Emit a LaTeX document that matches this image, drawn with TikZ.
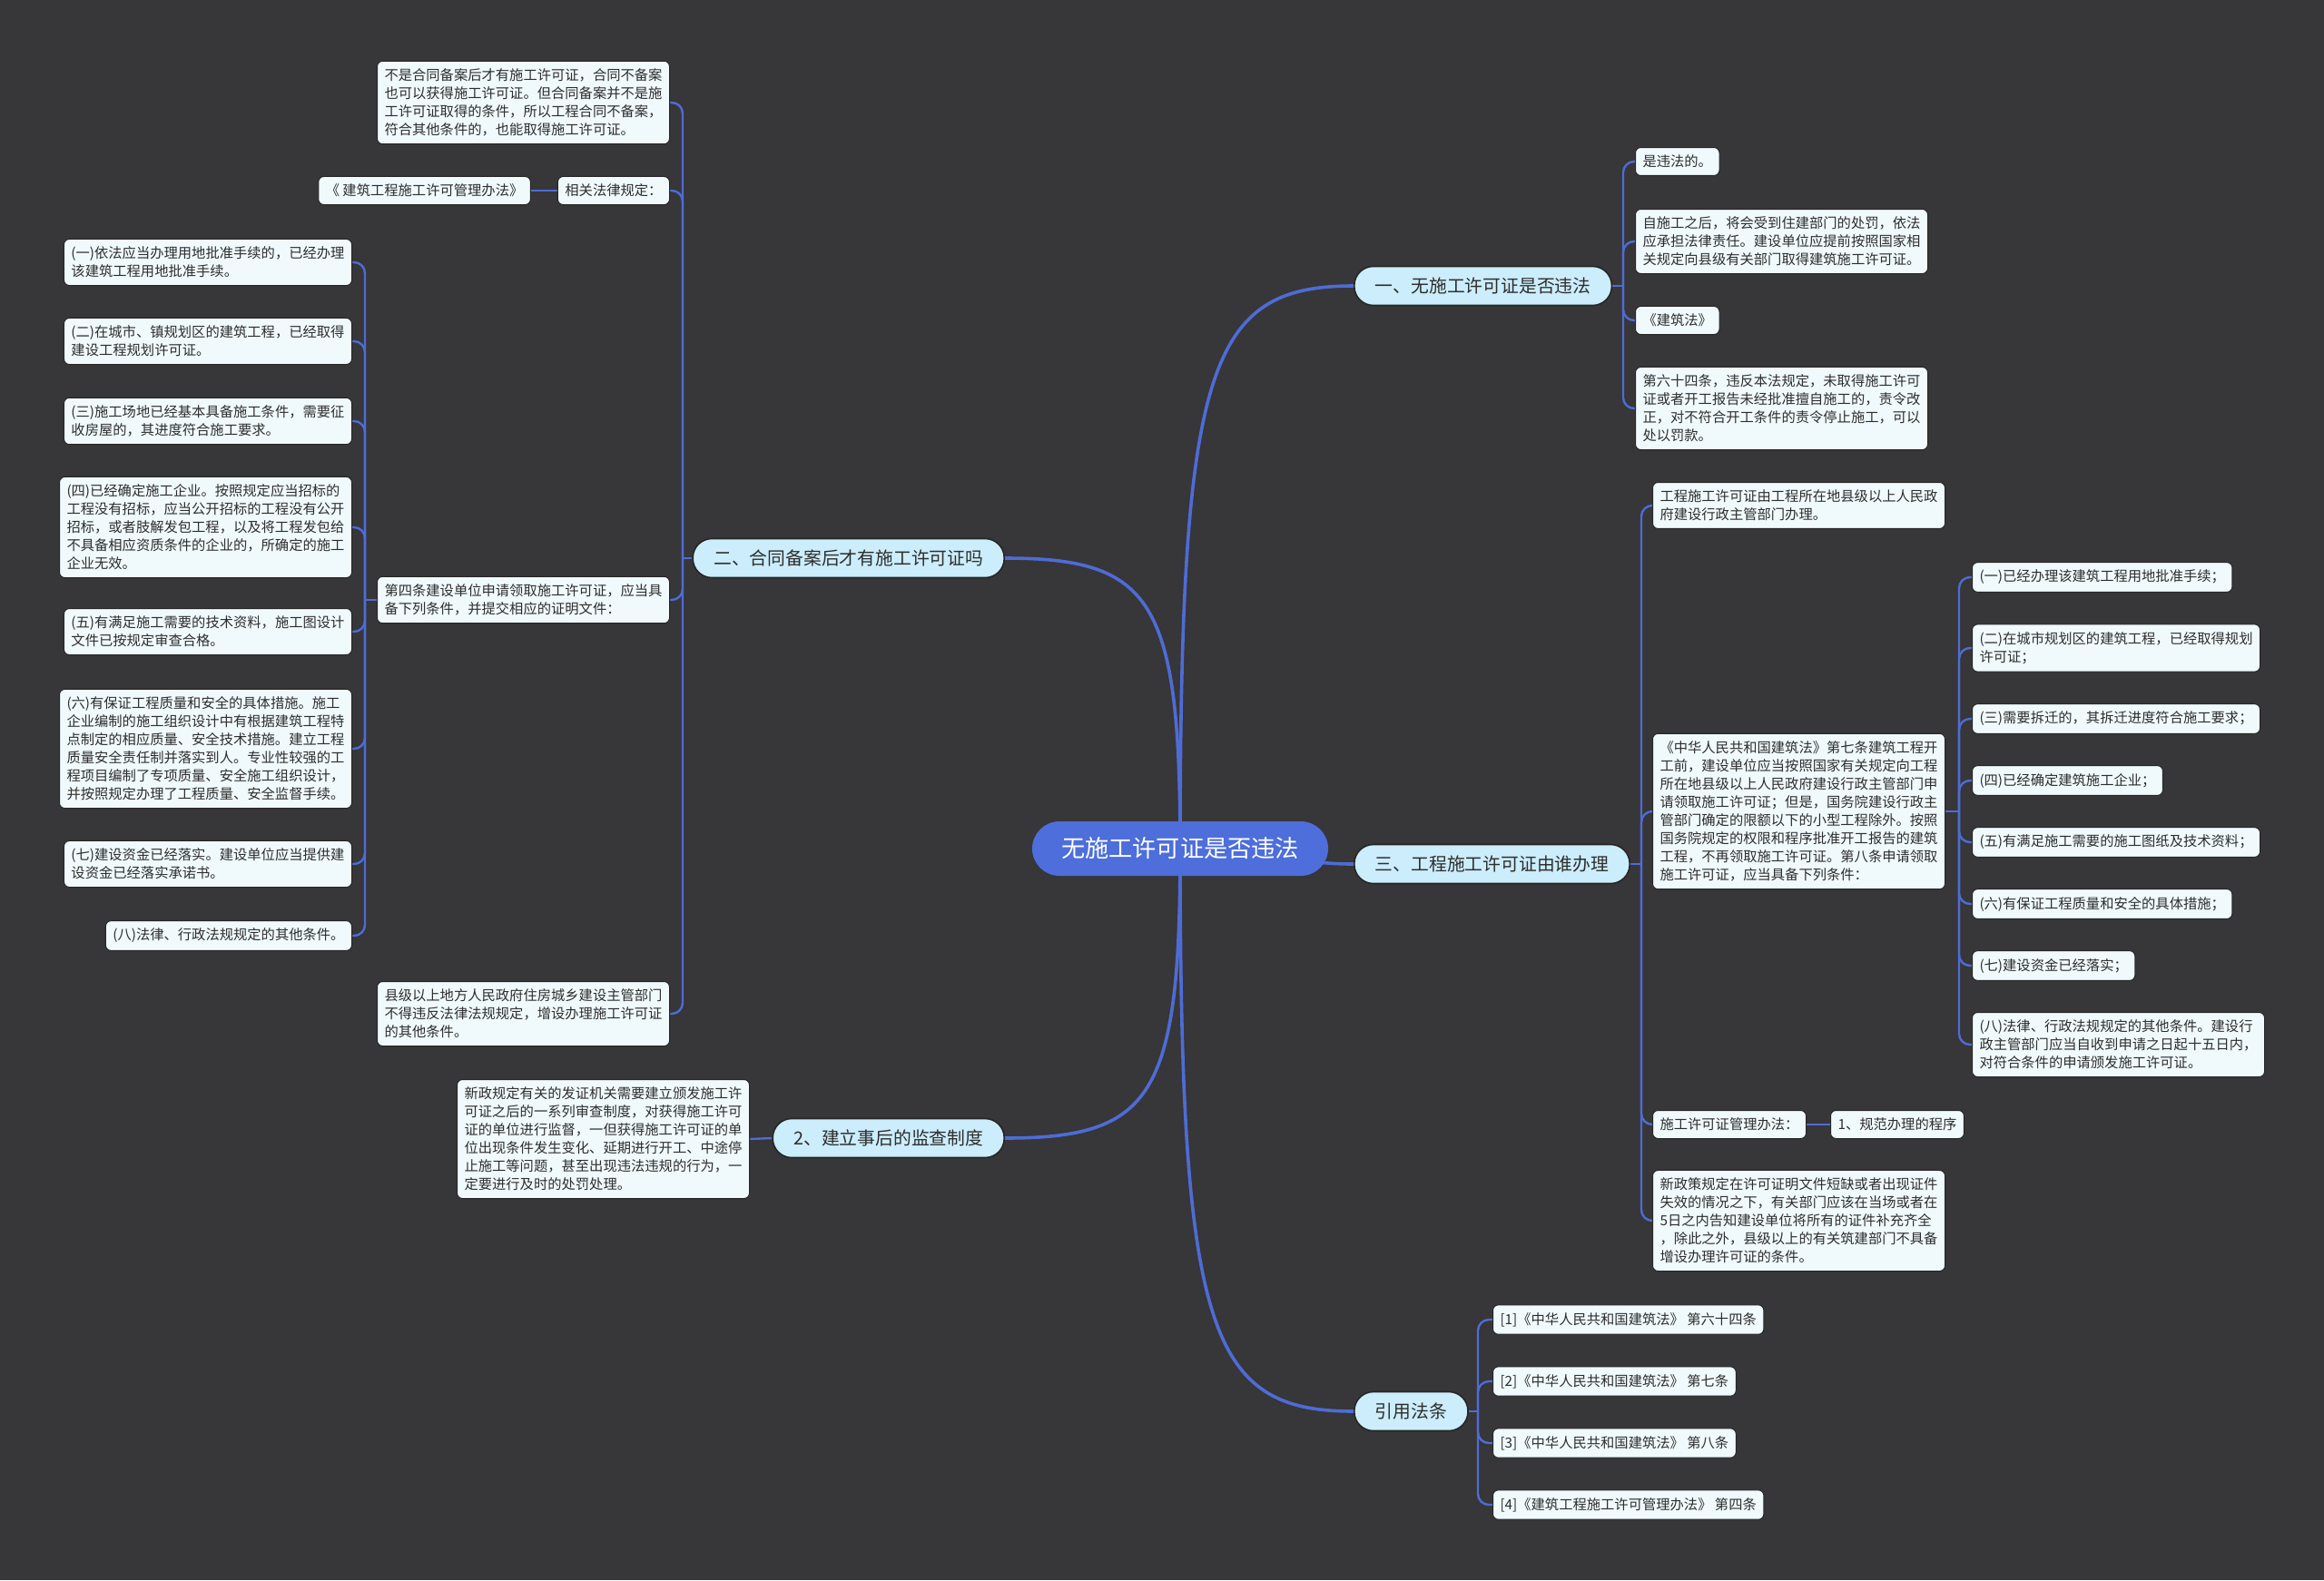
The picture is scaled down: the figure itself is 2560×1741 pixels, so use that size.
\documentclass[tikz,border=0pt]{standalone}
\usepackage{fontspec}
\setmainfont{Noto Sans CJK SC}
\usepackage{tikz}
\usetikzlibrary{positioning}

\definecolor{bgc}{RGB}{55,54,56}
\definecolor{linkc}{RGB}{78,108,214}
\definecolor{leaffill}{RGB}{240,250,253}
\definecolor{branchfill}{RGB}{204,237,251}
\definecolor{rootfill}{RGB}{77,110,219}
\definecolor{edgec}{RGB}{38,38,38}
\definecolor{txt}{RGB}{45,45,45}

\pgfdeclarelayer{back}
\pgfsetlayers{back,main}

\begin{document}
\begin{tikzpicture}
	[   x=0.5pt,y=-0.5pt,
	leaf/.style={draw=edgec,fill=leaffill,text=txt,rounded corners=3pt,align=left,inner xsep=4pt,inner ysep=4.2pt,line width=0.5pt,font=\fontsize{7.65}{10}\selectfont},
	branch/.style={draw=edgec,fill=branchfill,text=txt,rounded corners=10.5pt,minimum height=21.5pt,inner xsep=11.5pt,line width=0.8pt,font=\fontsize{9.9}{12}\selectfont},
	root/.style={fill=rootfill,text=white,rounded corners=15pt,minimum height=30pt,inner xsep=16pt,font=\fontsize{13.1}{15}\selectfont},
	]
	\tikzset{link/.style={draw=linkc,line width=1.2pt,rounded corners=6pt},main link/.style={draw=linkc,line width=1.8pt}}
	\begin{pgfonlayer}{back}
		\fill[bgc] (0,0) rectangle (2560,1741);
	\end{pgfonlayer}
	
	\node[root] (c) at (1300,935) {无施工许可证是否违法};
	\node[branch,anchor=west] (b1) at (1491,315) {一、无施工许可证是否违法};
	\node[branch,anchor=east] (b2) at (1107,615) {二、合同备案后才有施工许可证吗};
	\node[branch,anchor=west] (b3) at (1491,952) {三、工程施工许可证由谁办理};
	\node[branch,anchor=east] (b4) at (1107,1254) {2、建立事后的监查制度};
	\node[branch,anchor=west] (b5) at (1491,1555) {引用法条};
	
	% branch one
	\node[leaf,anchor=west] (a1) at (1801,178) {是违法的。};
	\node[leaf,anchor=west] (a2) at (1801,266) {自施工之后，将会受到住建部门的处罚，依法\\应承担法律责任。建设单位应提前按照国家相\\关规定向县级有关部门取得建筑施工许可证。};
	\node[leaf,anchor=west] (a3) at (1801,353) {《建筑法》};
	\node[leaf,anchor=west] (a4) at (1801,450) {第六十四条，违反本法规定，未取得施工许可\\证或者开工报告未经批准擅自施工的，责令改\\正，对不符合开工条件的责令停止施工，可以\\处以罚款。};
	
	% branch two
	\node[leaf,anchor=east] (f1) at (738,113) {不是合同备案后才有施工许可证，合同不备案\\也可以获得施工许可证。但合同备案并不是施\\工许可证取得的条件，所以工程合同不备案，\\符合其他条件的，也能取得施工许可证。};
	\node[leaf,anchor=east] (f2) at (738,210) {相关法律规定：};
	\node[leaf,left=14.5pt of f2] (f2a) {《 建筑工程施工许可管理办法》};
	\node[leaf,anchor=east] (f3) at (738,661) {第四条建设单位申请领取施工许可证，应当具\\备下列条件，并提交相应的证明文件：};
	\node[leaf,anchor=east] (f4) at (738,1117) {县级以上地方人民政府住房城乡建设主管部门\\不得违反法律法规规定，增设办理施工许可证\\的其他条件。};
	
	\node[leaf,anchor=east] (g1) at (388,289) {(一)依法应当办理用地批准手续的，已经办理\\该建筑工程用地批准手续。};
	\node[leaf,anchor=east] (g2) at (388,376) {(二)在城市、镇规划区的建筑工程，已经取得\\建设工程规划许可证。};
	\node[leaf,anchor=east] (g3) at (388,464) {(三)施工场地已经基本具备施工条件，需要征\\收房屋的，其进度符合施工要求。};
	\node[leaf,anchor=east] (g4) at (388,581) {(四)已经确定施工企业。按照规定应当招标的\\工程没有招标，应当公开招标的工程没有公开\\招标，或者肢解发包工程，以及将工程发包给\\不具备相应资质条件的企业的，所确定的施工\\企业无效。};
	\node[leaf,anchor=east] (g5) at (388,696) {(五)有满足施工需要的技术资料，施工图设计\\文件已按规定审查合格。};
	\node[leaf,anchor=east] (g6) at (388,825) {(六)有保证工程质量和安全的具体措施。施工\\企业编制的施工组织设计中有根据建筑工程特\\点制定的相应质量、安全技术措施。建立工程\\质量安全责任制并落实到人。专业性较强的工\\程项目编制了专项质量、安全施工组织设计，\\并按照规定办理了工程质量、安全监督手续。};
	\node[leaf,anchor=east] (g7) at (388,952) {(七)建设资金已经落实。建设单位应当提供建\\设资金已经落实承诺书。};
	\node[leaf,anchor=east] (g8) at (388,1031) {(八)法律、行政法规规定的其他条件。};
	
	% branch 2
	\node[leaf,anchor=east] (h1) at (826,1255) {新政规定有关的发证机关需要建立颁发施工许\\可证之后的一系列审查制度，对获得施工许可\\证的单位进行监督，一但获得施工许可证的单\\位出现条件发生变化、延期进行开工、中途停\\止施工等问题，甚至出现违法违规的行为，一\\定要进行及时的处罚处理。};
	
	% branch three
	\node[leaf,anchor=west] (c1) at (1820,557) {工程施工许可证由工程所在地县级以上人民政\\府建设行政主管部门办理。};
	\node[leaf,anchor=west] (c2) at (1820,894) {《中华人民共和国建筑法》第七条建筑工程开\\工前，建设单位应当按照国家有关规定向工程\\所在地县级以上人民政府建设行政主管部门申\\请领取施工许可证；但是，国务院建设行政主\\管部门确定的限额以下的小型工程除外。按照\\国务院规定的权限和程序批准开工报告的建筑\\工程，不再领取施工许可证。第八条申请领取\\施工许可证，应当具备下列条件：};
	\node[leaf,anchor=west] (c3) at (1820,1239) {施工许可证管理办法：};
	\node[leaf,right=13pt of c3] (c3a) {1、规范办理的程序};
	\node[leaf,anchor=west] (c4) at (1820,1345) {新政策规定在许可证明文件短缺或者出现证件\\失效的情况之下，有关部门应该在当场或者在\\5日之内告知建设单位将所有的证件补充齐全\\，除此之外，县级以上的有关筑建部门不具备\\增设办理许可证的条件。};
	
	\node[leaf,anchor=west] (d1) at (2172,636) {(一)已经办理该建筑工程用地批准手续；};
	\node[leaf,anchor=west] (d2) at (2172,714) {(二)在城市规划区的建筑工程，已经取得规划\\许可证；};
	\node[leaf,anchor=west] (d3) at (2172,792) {(三)需要拆迁的，其拆迁进度符合施工要求；};
	\node[leaf,anchor=west] (d4) at (2172,860) {(四)已经确定建筑施工企业；};
	\node[leaf,anchor=west] (d5) at (2172,928) {(五)有满足施工需要的施工图纸及技术资料；};
	\node[leaf,anchor=west] (d6) at (2172,996) {(六)有保证工程质量和安全的具体措施；};
	\node[leaf,anchor=west] (d7) at (2172,1064) {(七)建设资金已经落实；};
	\node[leaf,anchor=west] (d8) at (2172,1151) {(八)法律、行政法规规定的其他条件。建设行\\政主管部门应当自收到申请之日起十五日内，\\对符合条件的申请颁发施工许可证。};
	
	% references
	\node[leaf,anchor=west] (e1) at (1644,1454) {[1]《中华人民共和国建筑法》 第六十四条};
	\node[leaf,anchor=west] (e2) at (1644,1522) {[2]《中华人民共和国建筑法》 第七条};
	\node[leaf,anchor=west] (e3) at (1644,1590) {[3]《中华人民共和国建筑法》 第八条};
	\node[leaf,anchor=west] (e4) at (1644,1658) {[4]《建筑工程施工许可管理办法》 第四条};
	
	\coordinate (t1) at (1788,315);
	\coordinate (t2) at (752,615);
	\coordinate (t3) at (1808,952);
	\coordinate (t4) at (402,661);
	\coordinate (t5) at (1628,1555);
	\coordinate (t7) at (2158,894);
	
	\begin{pgfonlayer}{back}
		\path[main link] (c.center) .. controls (1300,402) and (1331,315) .. (b1.west);
		\path[main link] (c.center) .. controls (1300,660) and (1269,615) .. (b2.east);
		\path[main link] (c.center) .. controls (1400,935) and (1420,952) .. (b3.west);
		\path[main link] (c.center) .. controls (1300,1209) and (1269,1254) .. (b4.east);
		\path[main link] (c.center) .. controls (1300,1468) and (1331,1555) .. (b5.west);
		
		\path[link] (b1.east) -- (t1);
		\foreach \k in {a1,a2,a3,a4}
		\path[link] (t1) |- (\k.west);
		
		\path[link] (b2.west) -- (t2);
		\foreach \k in {f1,f2,f3,f4}
		\path[link] (t2) |- (\k.east);
		\path[link] (f2.west) -- (f2a.east);
		
		\path[link] (f3.west) -- (t4);
		\foreach \k in {g1,g2,g3,g4,g5,g6,g7,g8}
		\path[link] (t4) |- (\k.east);
		
		\path[link] (b4.west) -- (h1.east);
		
		\path[link] (b3.east) -- (t3);
		\foreach \k in {c1,c2,c3,c4}
		\path[link] (t3) |- (\k.west);
		\path[link] (c3.east) -- (c3a.west);
		
		\path[link] (c2.east) -- (t7);
		\foreach \k in {d1,d2,d3,d4,d5,d6,d7,d8}
		\path[link] (t7) |- (\k.west);
		
		\path[link] (b5.east) -- (t5);
		\foreach \k in {e1,e2,e3,e4}
		\path[link] (t5) |- (\k.west);
	\end{pgfonlayer}
\end{tikzpicture}
\end{document}
